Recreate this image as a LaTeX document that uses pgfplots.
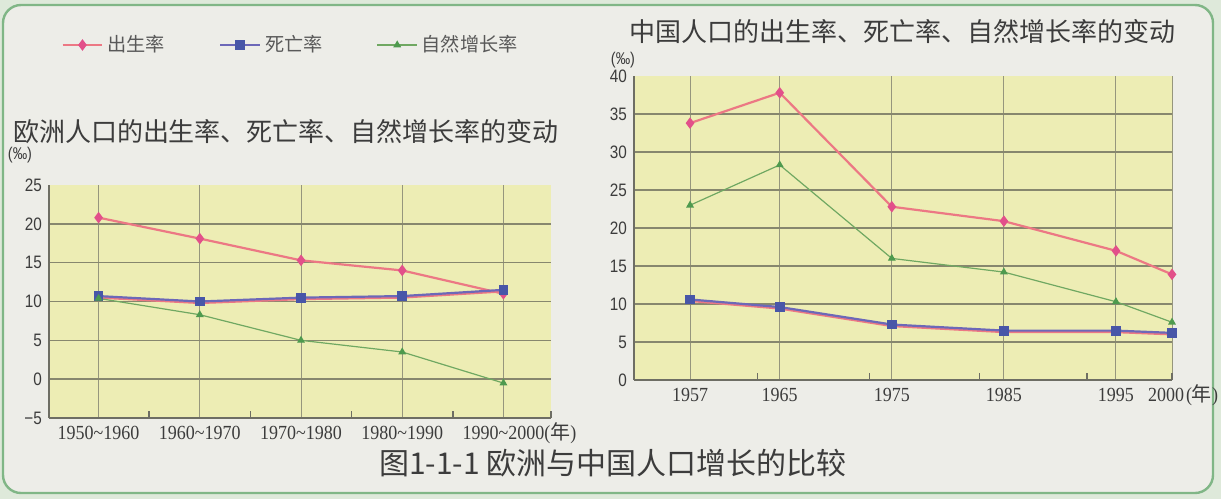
\documentclass[border=0pt]{standalone}
\usepackage{fontspec}
\setmainfont{Liberation Serif}
\newfontfamily\cjk{Noto Sans CJK SC}
\newfontfamily\ysans[FakeStretch=0.85]{Liberation Sans}
\newfontfamily\xserif[FakeStretch=0.9]{Liberation Serif}
\usepackage{pgfplots}
\usepackage{pgfplotstable}
\pgfplotsset{compat=1.18}

\definecolor{bgout}{RGB}{222,233,218}
\definecolor{bgin}{RGB}{237,237,232}
\definecolor{framec}{RGB}{128,182,134}
\definecolor{plotbg}{RGB}{237,237,180}
\definecolor{gridh}{RGB}{135,135,110}
\definecolor{gridv}{RGB}{150,150,125}
\definecolor{axiscol}{RGB}{110,110,100}
\definecolor{txt}{RGB}{60,60,60}
\definecolor{birthc}{RGB}{236,120,132}
\definecolor{birthm}{RGB}{226,80,138}
\definecolor{deathc}{RGB}{108,104,184}
\definecolor{deathm}{RGB}{72,86,168}
\definecolor{growc}{RGB}{112,168,98}
\definecolor{growm}{RGB}{78,154,78}

% Europe: categories 0..4 = 1950~1960 ... 1990~2000
\pgfplotstableread{
x birth death grow
0 20.8 10.7 10.4
1 18.1 10.0 8.3
2 15.3 10.5 5.0
3 14.0 10.7 3.5
4 11.0 11.5 -0.5
}\europe

\pgfplotstableread{
x birth death grow
1957 33.8 10.6 23.0
1965 37.8 9.6 28.3
1975 22.8 7.3 16.0
1985 20.9 6.5 14.2
1995 17.0 6.5 10.3
2000 13.9 6.2 7.6
}\china

\pgfplotsset{
  chartbase/.style={
    scale only axis, clip=false,
    axis x line*=bottom, axis y line*=left,
    axis line style={draw=axiscol, line width=0.8pt},
    axis background/.style={fill=plotbg},
    major tick length=0pt,
    xmajorgrids, ymajorgrids,
    major x grid style={draw=gridv, line width=0.5pt},
    major y grid style={draw=gridh, line width=0.7pt},
    extra x tick labels={},
    extra x tick style={grid=none, major tick length=3.5pt, tick align=inside,
      tick style={draw=axiscol, line width=0.7pt}},
    extra y tick style={grid=none},
    yticklabel style={font=\ysans\fontsize{9}{10}\selectfont, text=txt},
    xticklabel style={font=\xserif\fontsize{10}{12}\selectfont, text=txt,
      text height=7pt, text depth=2pt},
  },
  birth/.style={birthc, line width=1.1pt, mark=diamond*, mark size=2pt,
    mark options={fill=birthm, draw=birthm}},
  deathunder/.style={birthc, line width=1.2pt, yshift=-0.7pt, forget plot},
  death/.style={deathc, line width=1.1pt, mark=square*, mark size=1.9pt,
    mark options={fill=deathm, draw=deathm}},
  grow/.style={growc, line width=0.6pt, mark=triangle*, mark size=1.7pt,
    mark options={fill=growm, draw=growm}},
}

\begin{document}
\begin{tikzpicture}
\fill[bgout] (0,0) rectangle (610.5pt,-249.5pt);
\filldraw[fill=bgin, draw=framec, line width=1.2pt, rounded corners=9pt]
  (1.5pt,-2.5pt) rectangle (606.5pt,-246.5pt);

\node[font=\cjk\fontsize{13}{15}\selectfont, text=txt] at (143pt,-66pt)
  {欧洲人口的出生率、死亡率、自然增长率的变动};
\node[font=\cjk\fontsize{13}{15}\selectfont, text=txt] at (451pt,-16pt)
  {中国人口的出生率、死亡率、自然增长率的变动};
\node[font=\ysans\fontsize{8.5}{9}\selectfont, text=txt] at (10pt,-77.5pt) {(‰)};
\node[font=\ysans\fontsize{8.5}{9}\selectfont, text=txt] at (311.5pt,-30pt) {(‰)};
\node[font=\cjk\fontsize{15}{17}\selectfont, text=txt] at (306.5pt,-231.5pt)
  {图1-1-1 欧洲与中国人口增长的比较};

\begin{axis}[chartbase, at={(24.5pt,-209pt)}, anchor=south west,
  width=251pt, height=116.5pt,
  xmin=-0.49, xmax=4.47, ymin=-5, ymax=25,
  xtick={0,...,4},
  xticklabels={1950\textasciitilde1960, 1960\textasciitilde1970,
    1970\textasciitilde1980, 1980\textasciitilde1990,
    1990\textasciitilde2000\rlap{({\cjk 年})}},
  extra x ticks={0.5,1.5,2.5,3.5,4.47},
  ytick={-5,0,5,10,15,20}, yticklabels={−5,0,5,10,15,20},
  extra y ticks={25}, extra y tick labels={25},
  legend columns=3,
  legend image code/.code={\draw[mark repeat=2, mark phase=2]
    plot coordinates {(0cm,0cm) (0.35cm,0cm) (0.7cm,0cm)};},
  legend style={at={(0.024,1.601)}, anchor=west, draw=none, fill=none,
    inner sep=0pt, font=\cjk\fontsize{9.6}{11}\selectfont, text=txt!85,
    /tikz/every even column/.append style={column sep=25pt}},
]
\addplot[birth] table[x=x, y=birth] {\europe};
\addplot[deathunder] table[x=x, y=death] {\europe};
\addplot[death] table[x=x, y=death] {\europe};
\addplot[grow] table[x=x, y=grow] {\europe};
\legend{出生率, 死亡率, 自然增长率}
\end{axis}

\begin{axis}[chartbase, at={(317pt,-190pt)}, anchor=south west,
  width=269pt, height=152pt,
  xmin=1952, xmax=2000, ymin=0, ymax=40,
  xtick={1957,1965,1975,1985,1995,2000},
  xticklabels={1957,1965,1975,1985,1995,
    \llap{2000\hspace{-6pt}}\rlap{\hspace{7pt}({\cjk 年})}},
  extra x ticks={1963,1973,1982.8,1992.4,2000},
  ytick={0,5,...,35}, yticklabels={0,5,10,15,20,25,30,35},
  extra y ticks={40}, extra y tick labels={40},
]
\addplot[birth] table[x=x, y=birth] {\china};
\addplot[deathunder] table[x=x, y=death] {\china};
\addplot[death] table[x=x, y=death] {\china};
\addplot[grow] table[x=x, y=grow] {\china};
\end{axis}

\pgfresetboundingbox
\useasboundingbox (0,0) rectangle (610.5pt,-249.5pt);
\end{tikzpicture}
\end{document}
